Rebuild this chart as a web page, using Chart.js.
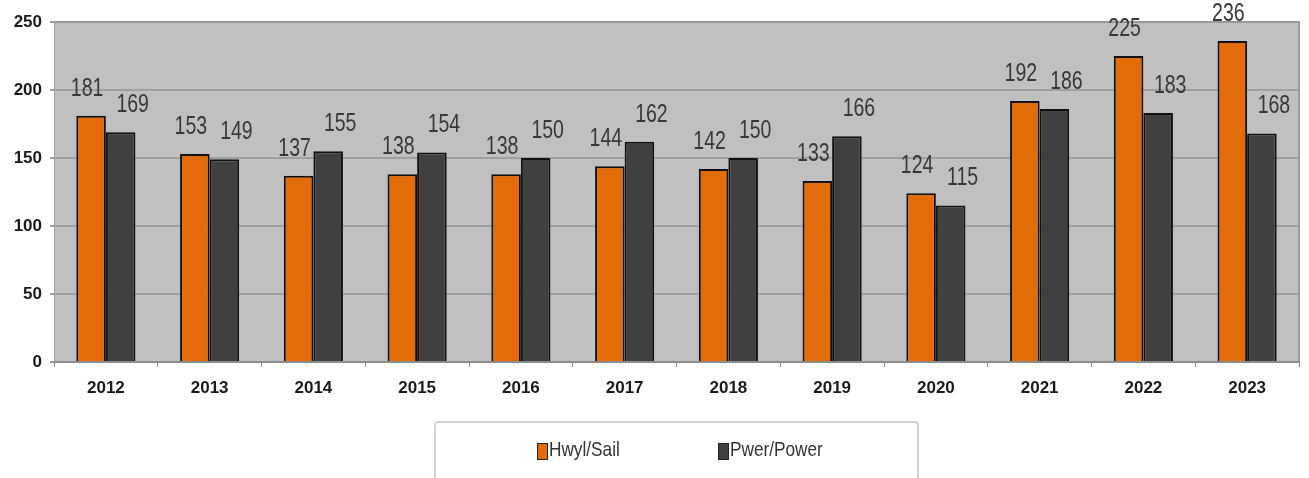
<!DOCTYPE html>
<html>
<head>
<meta charset="utf-8">
<script src="https://cdn.jsdelivr.net/npm/chart.js@4.4.1/dist/chart.umd.min.js"></script>
<style>
  html,body{margin:0;padding:0;background:#fff;}
  #wrap{position:relative;width:1309px;height:478px;}
</style>
</head>
<body>
<div id="wrap"><canvas id="c" width="1309" height="478"></canvas></div>
<script>
const years = ['2012','2013','2014','2015','2016','2017','2018','2019','2020','2021','2022','2023'];
const sailValues = [181,153,137,138,138,144,142,133,124,192,225,236];
const powerValues = [169,149,155,154,150,162,150,166,115,186,183,168];
const seriesNames = ['Hwyl/Sail','Pwer/Power'];
const yTicks = [0,50,100,150,200,250];

const SANS = "'Liberation Sans',Arial,sans-serif";

function narrowText(ctx, text, x, y, sx){
  ctx.save();
  ctx.translate(x, y);
  ctx.scale(sx, 1);
  ctx.fillText(text, 0, 0);
  ctx.restore();
}

const plotBg = {
  id:'plotBg',
  beforeDraw(chart){
    const {ctx, chartArea:a} = chart;
    ctx.save();
    ctx.fillStyle = '#c0c0c0';
    ctx.fillRect(a.left, a.top, a.right-a.left, a.bottom-a.top);
    ctx.restore();
  },
  afterDatasetsDraw(chart){
    const {ctx, chartArea:a} = chart;
    ctx.save();
    ctx.strokeStyle = '#9a9a9a';
    ctx.lineWidth = 2;
    ctx.beginPath();
    ctx.moveTo(a.left, a.top); ctx.lineTo(a.right, a.top); ctx.lineTo(a.right, a.bottom);
    ctx.stroke();
    ctx.restore();
  }
};

const valueLabels = {
  id:'valueLabels',
  afterDatasetsDraw(chart){
    const ctx = chart.ctx;
    const dxs = [-4, 12];
    ctx.save();
    ctx.font = '25px ' + SANS;
    ctx.fillStyle = '#383838';
    ctx.textAlign = 'center';
    ctx.textBaseline = 'middle';
    chart.data.datasets.forEach((ds, di) => {
      chart.getDatasetMeta(di).data.forEach((bar, i) => {
        narrowText(ctx, String(ds.data[i]), bar.x + dxs[di], bar.y - 27, 0.78);
      });
    });
    ctx.restore();
  }
};

const legendBox = {
  id:'legendBox',
  afterDraw(chart){
    const ctx = chart.ctx;
    ctx.save();
    ctx.strokeStyle = '#d2d2d2';
    ctx.lineWidth = 2;
    ctx.beginPath();
    if (ctx.roundRect) ctx.roundRect(435, 422, 483, 80, 3); else ctx.rect(435,422,483,80);
    ctx.stroke();
    const xs = [537, 718];
    ctx.font = '21px ' + SANS;
    ctx.textBaseline = 'middle';
    ctx.textAlign = 'left';
    chart.data.datasets.forEach((ds, di) => {
      const x = xs[di];
      ctx.fillStyle = ds.backgroundColor;
      ctx.fillRect(x, 443, 11, 17);
      ctx.strokeStyle = '#222';
      ctx.lineWidth = 1;
      ctx.strokeRect(x+0.5, 443.5, 10, 16);
      ctx.fillStyle = '#333';
      narrowText(ctx, ds.label, x + 12, 450, 0.82);
    });
    ctx.restore();
  }
};

new Chart(document.getElementById('c'), {
  type:'bar',
  data:{
    labels: years,
    datasets:[
      {label: seriesNames[0], data: sailValues, backgroundColor:'#e36c09', borderColor:'#111', borderWidth:2, borderSkipped:'start'},
      {label: seriesNames[1], data: powerValues, backgroundColor:'#404040', borderColor:'#111', borderWidth:2, borderSkipped:'start'}
    ]
  },
  options:{
    responsive:false,
    animation:false,
    devicePixelRatio:1,
    layout:{padding:{top:22,right:10,bottom:76,left:0}},
    datasets:{bar:{categoryPercentage:0.57, barPercentage:1}},
    plugins:{legend:{display:false}, tooltip:{enabled:false}, title:{display:false}},
    scales:{
      x:{
        grid:{drawOnChartArea:false, drawTicks:true, tickLength:5, color:'#8c8c8c', offset:true},
        border:{display:true, color:'#8c8c8c', width:2},
        ticks:{color:'#1a1a1a', font:{family:SANS, size:17, weight:'bold'}, padding:11, maxRotation:0},
        afterFit(s){ s.height = 40; }
      },
      y:{
        min:0, max:250,
        afterBuildTicks(s){ s.ticks = yTicks.map(v=>({value:v})); },
        grid:{color:'#a0a0a0', lineWidth:2, tickLength:4, drawTicks:true},
        border:{display:true, color:'#a0a0a0', width:1},
        ticks:{color:'#1a1a1a', font:{family:SANS, size:17, weight:'bold'}, padding:8},
        afterFit(s){ s.width = 54; }
      }
    }
  },
  plugins:[plotBg, valueLabels, legendBox]
});
</script>
</body>
</html>
